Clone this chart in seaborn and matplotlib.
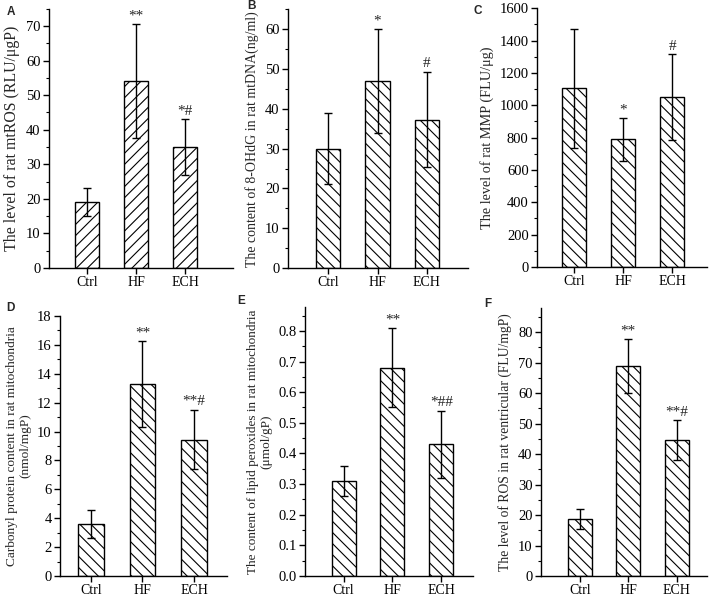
import matplotlib
matplotlib.use("Agg")
import matplotlib.pyplot as plt
from matplotlib.ticker import MultipleLocator, FormatStrFormatter
import seaborn as sns
import numpy as np

sns.set_theme(style="ticks")
plt.rcParams['font.family'] = ['Liberation Serif', 'DejaVu Serif']
plt.rcParams['hatch.linewidth'] = 0.8
plt.rcParams['hatch.color'] = 'black'

categories = ["Ctrl", "HF", "ECH"]

# Panel A
a_vals = [19, 54, 35]
a_sd = [4, 16.5, 8]
a_marks = ["", "**", "*#"]
# Panel B
b_vals = [30, 47, 37.3]
b_sd = [9, 13, 12]
b_marks = ["", "*", "#"]
# Panel C
c_vals = [1105, 790, 1050]
c_sd = [368, 133, 266]
c_marks = ["", "*", "#"]
# Panel D
d_vals = [3.6, 13.3, 9.45]
d_sd = [1.0, 3.0, 2.05]
d_marks = ["", "**", "**#"]
# Panel E
e_vals = [0.31, 0.68, 0.43]
e_sd = [0.05, 0.13, 0.11]
e_marks = ["", "**", "*##"]
# Panel F
f_vals = [18.8, 68.9, 44.7]
f_sd = [3.3, 8.8, 6.5]
f_marks = ["", "**", "**#"]

W, H = 709, 597
fig = plt.figure(figsize=(W / 100, H / 100), dpi=100)


def make_ax(left, right, top, bottom):
    return fig.add_axes([left / W, 1 - bottom / H, (right - left) / W, (bottom - top) / H])


panels = [
    # letter, vals, sd, marks, hatch, ylim, major, minor, ylabel, label size, px box (l, r, top, bottom), xlim, fmt, letter pos
    ("A", a_vals, a_sd, a_marks, "///", 75, 10, 5, "The level of rat mtROS (RLU/\u03bcgP)", 11.4,
     (49, 233, 268 - 75 * 3.457, 268), (-0.776, 2.98), None, (7, 12)),
    ("B", b_vals, b_sd, b_marks, "\\\\\\", 65, 10, 5, "The content of 8-OHdG in rat mtDNA(ng/ml)", 10.0,
     (288, 468, 268 - 65 * 3.98, 268), (-0.81, 2.83), None, (247, 6)),
    ("C", c_vals, c_sd, c_marks, "\\\\\\", 1600, 200, 100, "The level of rat MMP (FLU/\u03bcg)", 10.3,
     (537, 707, 8.3, 267), (-0.755, 2.71), None, (473, 11)),
    ("D", d_vals, d_sd, d_marks, "\\\\\\", 18, 2, 1, "Carbonyl protein content in rat mitochondria\n(nmol/mgP)", 9.6,
     (60, 227, 316, 576), (-0.60, 2.64), None, (6, 308)),
    ("E", e_vals, e_sd, e_marks, "\\\\\\", 0.878, 0.1, 0.05, "The content of lipid peroxides in rat mitochondria\n(\u03bcmol/gP)", 9.5,
     (305, 473, 307, 576), (-0.79, 2.65), "%.1f", (237, 301)),
    ("F", f_vals, f_sd, f_marks, "\\\\\\", 87.9, 10, 5, "The level of ROS in rat ventricular (FLU/mgP)", 9.8,
     (541, 707, 308, 576), (-0.80, 2.62), None, (484, 304)),
]

for (letter, vals, sd, marks, hatch, ytop, major, minor, ylabel, lsize, box, xlim, fmt, lpos) in panels:
    ax = make_ax(box[0], box[1], box[2], box[3])
    sns.barplot(x=categories, y=vals, ax=ax, color="white", edgecolor="black",
                linewidth=1.0, width=0.49, errorbar=None, saturation=1)
    for p in ax.patches:
        p.set_hatch(hatch)
        p.set_facecolor("white")
    ax.errorbar(x=np.arange(len(categories)), y=vals, yerr=sd, fmt="none",
                ecolor="black", elinewidth=1.0, capsize=3, capthick=1.0)
    for i, m in enumerate(marks):
        if m:
            ax.annotate(m, xy=(i, vals[i] + sd[i]), xytext=(0, 1), textcoords="offset points",
                        ha="center", va="bottom", fontsize=11)
    ax.set_ylim(0, ytop)
    ax.set_xlim(*xlim)
    ax.yaxis.set_major_locator(MultipleLocator(major))
    ax.yaxis.set_minor_locator(MultipleLocator(minor))
    if fmt:
        ax.yaxis.set_major_formatter(FormatStrFormatter(fmt))
    ax.set_ylabel(ylabel, fontsize=lsize, labelpad=4)
    ax.set_xlabel("")
    sns.despine(ax=ax)
    for s in ("left", "bottom"):
        ax.spines[s].set_linewidth(1.0)
        ax.spines[s].set_color("black")
    ax.tick_params(axis="both", which="major", direction="out", length=4, width=1.0,
                   colors="black", pad=2)
    ax.tick_params(axis="y", which="major", labelsize=10.5)
    ax.tick_params(axis="x", which="major", labelsize=10)
    ax.tick_params(axis="y", which="minor", direction="out", length=2, width=0.8, colors="black")
    ax.tick_params(axis="x", which="minor", bottom=False)
    fig.text(lpos[0] / W, 1 - lpos[1] / H, letter, fontsize=8.5, fontweight="bold",
             family="Liberation Sans", ha="left", va="center")

fig.savefig("out.png", dpi=100)
